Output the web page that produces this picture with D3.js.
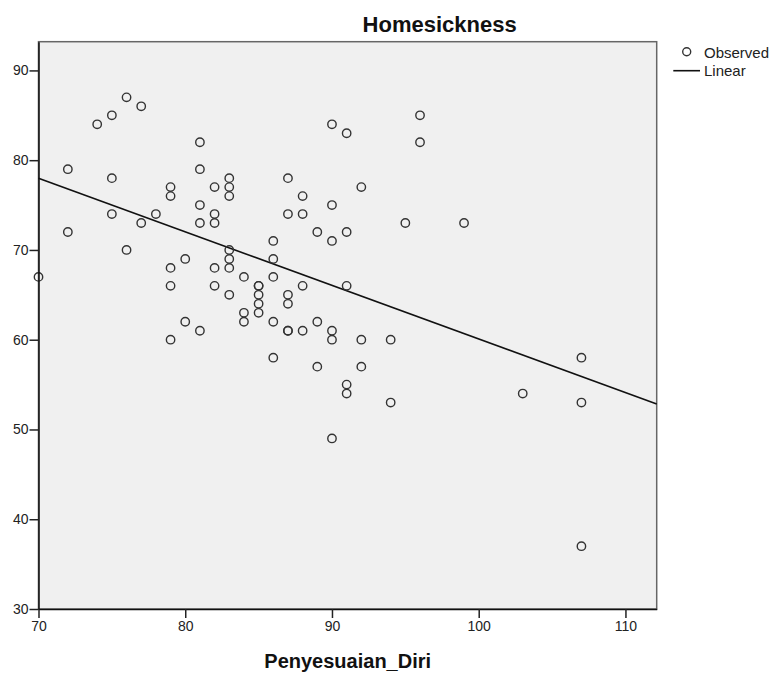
<!DOCTYPE html>
<html>
<head>
<meta charset="utf-8">
<script src="https://cdn.jsdelivr.net/npm/d3@7/dist/d3.min.js"></script>
<style>
body { margin: 0; background: #fff; }
svg { font-family: "Liberation Sans", Arial, sans-serif; }
.axis text { fill: #222; font-size: 14px; }
.axis line { stroke: #222; stroke-width: 1.5; }
.axis path { stroke: #111; stroke-width: 1.5; }
.dot { fill: none; stroke: #333; stroke-width: 1.4; }
</style>
</head>
<body>
<svg id="chart" width="772" height="673"></svg>
<script>
// Penyesuaian_Diri (x) vs Homesickness (y), one entry per respondent
var penyesuaianDiri = [76, 77, 75, 74, 81, 72, 81, 75, 83, 83,
    83, 79, 79, 82, 81, 75, 78, 82, 77, 81,
    82, 72, 76, 83, 83, 83, 86, 86, 86, 80,
    79, 82, 84, 70, 79, 82, 85, 85, 85, 85,
    83, 84, 84, 85, 86, 80, 81, 79, 86, 96,
    96, 90, 91, 87, 92, 88, 90, 87, 88, 95,
    99, 89, 91, 90, 91, 88, 87, 87, 87, 87,
    88, 89, 90, 90, 92, 94, 89, 92, 91, 91,
    94, 90, 103, 107, 107, 107];
var homesickness = [87, 86, 85, 84, 82, 79, 79, 78, 78, 77,
    76, 77, 76, 77, 75, 74, 74, 74, 73, 73,
    73, 72, 70, 70, 69, 68, 71, 69, 67, 69,
    68, 68, 67, 67, 66, 66, 66, 66, 65, 64,
    65, 63, 62, 63, 62, 62, 61, 60, 58, 85,
    82, 84, 83, 78, 77, 76, 75, 74, 74, 73,
    73, 72, 72, 71, 66, 66, 65, 64, 61, 61,
    61, 62, 61, 60, 60, 60, 57, 57, 55, 54,
    53, 49, 54, 58, 53, 37];

var xTicks = [70, 80, 90, 100, 110];
var yTicks = [30, 40, 50, 60, 70, 80, 90];
var legendLabels = ["Observed", "Linear"];

var plot = { left: 38.5, right: 656.7, top: 41.7, bottom: 609 };

var svg = d3.select('#chart');

var x = d3.scaleLinear()
    .domain([70, 112.13])
    .range([plot.left, plot.right]);

var y = d3.scaleLinear()
    .domain([30, 93.2])
    .range([plot.bottom, plot.top]);

// plot background + grey frame (top / right)
svg.append('rect')
    .attr('x', plot.left)
    .attr('y', plot.top)
    .attr('width', plot.right - plot.left)
    .attr('height', plot.bottom - plot.top)
    .style('fill', '#f0f0f0')
    .style('stroke', '#666')
    .style('stroke-width', 1.5);

// least squares fit
var n = penyesuaianDiri.length;
var mx = d3.mean(penyesuaianDiri), my = d3.mean(homesickness);
var sxy = 0, sxx = 0;
for (var i = 0; i < n; i++) {
    sxy += (penyesuaianDiri[i] - mx) * (homesickness[i] - my);
    sxx += (penyesuaianDiri[i] - mx) * (penyesuaianDiri[i] - mx);
}
var slope = sxy / sxx;
var intercept = my - slope * mx;

var line = d3.line()
    .x(d => x(d))
    .y(d => y(intercept + slope * d));

svg.append('path')
    .datum(x.domain())
    .attr('d', line)
    .style('fill', 'none')
    .style('stroke', '#111')
    .style('stroke-width', 1.6);

svg.append('g')
    .selectAll('circle')
    .data(penyesuaianDiri)
    .enter()
    .append('circle')
    .attr('class', 'dot')
    .attr('cx', d => x(d))
    .attr('cy', (d, i) => y(homesickness[i]))
    .attr('r', 4.2);

svg.append('g')
    .attr('class', 'axis')
    .attr('transform', 'translate(0,' + plot.bottom + ')')
    .call(d3.axisBottom(x).tickValues(xTicks).tickSize(9).tickSizeOuter(0).tickPadding(3));

svg.append('g')
    .attr('class', 'axis')
    .attr('transform', 'translate(' + plot.left + ',0)')
    .call(d3.axisLeft(y).tickValues(yTicks).tickSize(9).tickSizeOuter(0).tickPadding(1));

// titles
svg.append('text')
    .attr('x', 516.7)
    .attr('y', 32)
    .attr('text-anchor', 'end')
    .style('font-size', '22px')
    .style('font-weight', 'bold')
    .style('fill', '#111')
    .text('Homesickness');

svg.append('text')
    .attr('x', 347.7)
    .attr('y', 668)
    .attr('text-anchor', 'middle')
    .style('font-size', '20px')
    .style('font-weight', 'bold')
    .style('fill', '#111')
    .text('Penyesuaian_Diri');

// legend
var legend = svg.append('g');
legend.append('circle')
    .attr('class', 'dot')
    .attr('cx', 686.7)
    .attr('cy', 51.7)
    .attr('r', 4);
legend.append('line')
    .attr('x1', 673.3)
    .attr('x2', 700)
    .attr('y1', 70.7)
    .attr('y2', 70.7)
    .style('stroke', '#111')
    .style('stroke-width', 1.6);
legend.selectAll('text')
    .data(legendLabels)
    .enter()
    .append('text')
    .attr('x', 704)
    .attr('y', (d, i) => 58.3 + i * 17.7)
    .style('font-size', '15px')
    .style('fill', '#222')
    .text(d => d);
</script>
</body>
</html>
